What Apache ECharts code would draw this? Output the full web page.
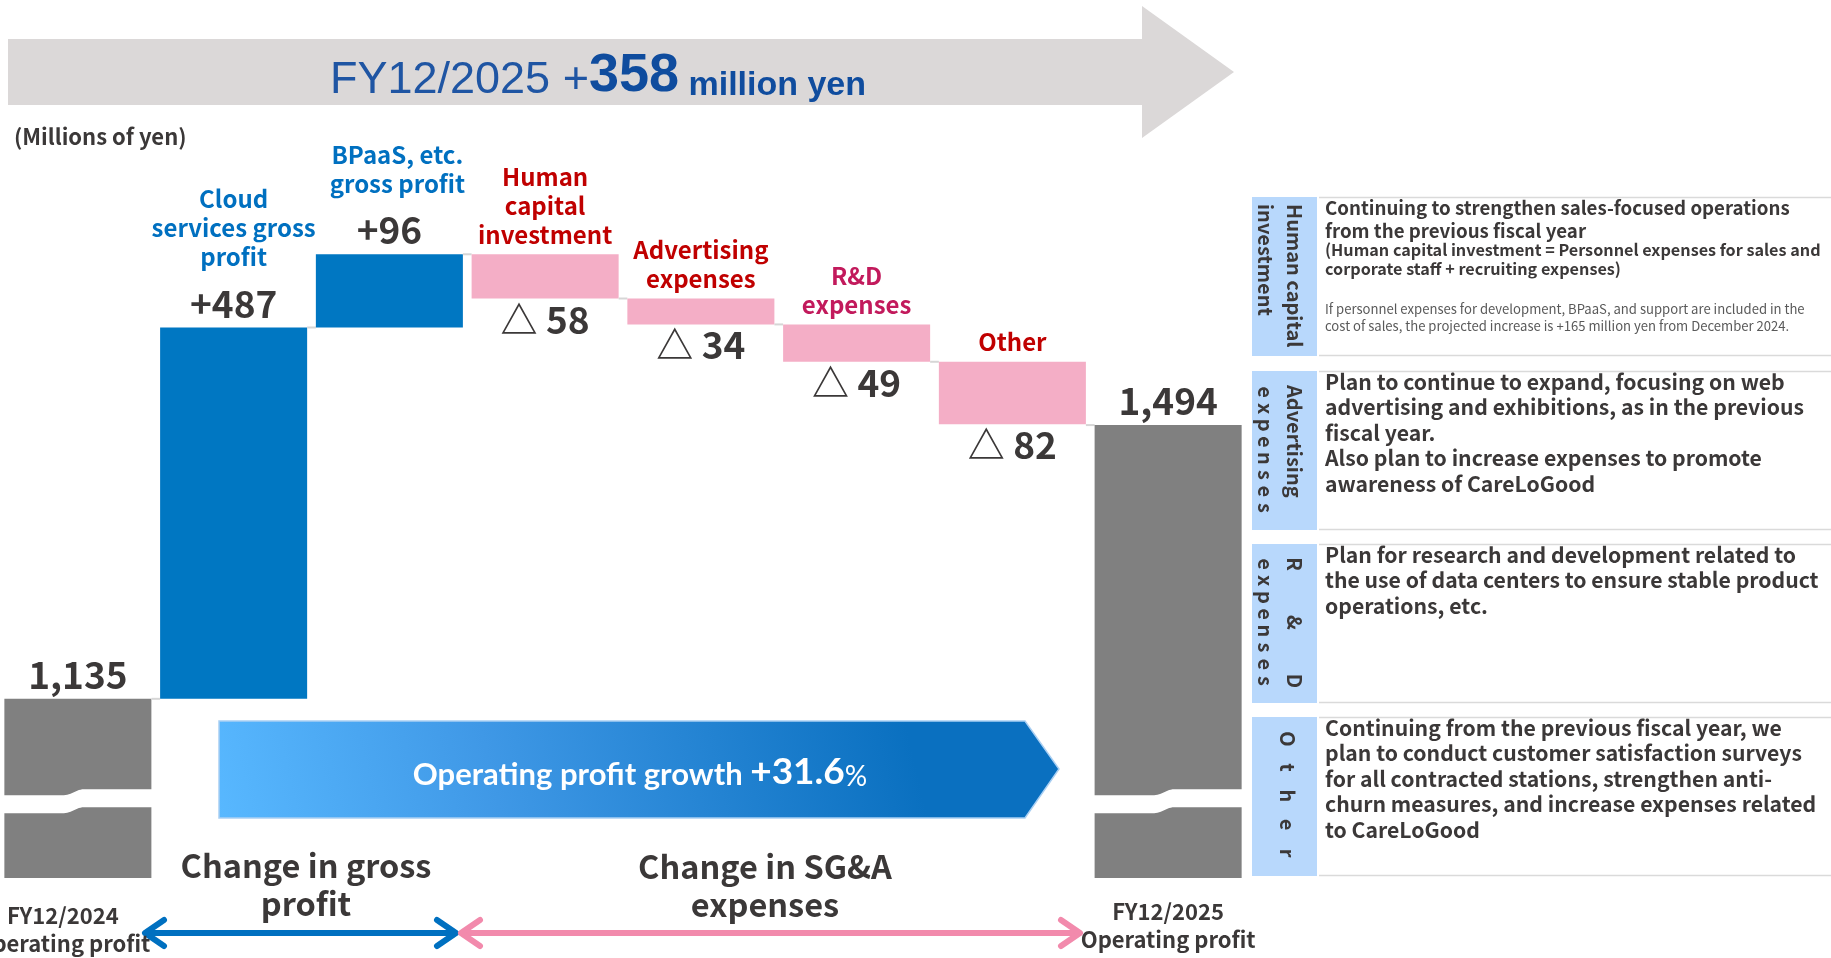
<!DOCTYPE html>
<html>
<head>
<meta charset="utf-8">
<title>Operating profit bridge FY12/2024 to FY12/2025</title>
<script src="https://cdn.jsdelivr.net/npm/echarts@6/dist/echarts.min.js"></script>
<style>
  html, body { margin: 0; padding: 0; background: #ffffff; overflow: hidden; }
  #chart { width: 1831px; height: 958px; }
</style>
</head>
<body>
<div id="chart"></div>
<script>
// ---- data ----
const categories = [
  'FY12/2024\nOperating profit',
  'Cloud\nservices gross\nprofit',
  'BPaaS, etc.\ngross profit',
  'Human\ncapital\ninvestment',
  'Advertising\nexpenses',
  'R&D\nexpenses',
  'Other',
  'FY12/2025\nOperating profit'
];
const stepKinds = ['total', 'up', 'up', 'down', 'down', 'down', 'down', 'total'];
const stepValues = [1135, 487, 96, 58, 34, 49, 82, 1494];

const noteTags = [
  ['Human capital', 'investment'],
  ['Advertising', 'expenses'],
  ['R&D', 'expenses'],
  ['Other']
];
const noteBodies = [
  'Continuing to strengthen sales-focused operations\nfrom the previous fiscal year',
  'Plan to continue to expand, focusing on web\nadvertising and exhibitions, as in the previous\nfiscal year.\nAlso plan to increase expenses to promote\nawareness of CareLoGood',
  'Plan for research and development related to\nthe use of data centers to ensure stable product\noperations, etc.',
  'Continuing from the previous fiscal year, we\nplan to conduct customer satisfaction surveys\nfor all contracted stations, strengthen anti-\nchurn measures, and increase expenses related\nto CareLoGood'
];
const humanCapitalDefinition = '(Human capital investment = Personnel expenses for sales and\ncorporate staff + recruiting expenses)';
const humanCapitalNote = 'If personnel expenses for development, BPaaS, and support are included in the\ncost of sales, the projected increase is +165 million yen from December 2024.';

// ---- styling ----
const FONT = '"Noto Sans CJK JP", "Noto Sans", sans-serif';
const AXIS_MIN = 900;
const AXIS_MAX = 1700;
const BREAK_AT = 1002;
const BAR_COLORS = { total: '#808080', up: '#0077c2', down: '#f4aec6' };
const NAME_COLORS = ['#0070c0', '#0070c0', '#0070c0', '#c00000', '#c00000', '#c21a5c', '#c00000', '#0070c0'];
const NAME_SHIFT_X = [0, 0, 8, 0, 0, 0, 0, 0];
const INK = '#3b3838';

// waterfall steps: [index, low, high, connector level]
let running = 0;
const steps = stepValues.map((v, i) => {
  const prev = running;
  let lo, hi;
  if (stepKinds[i] === 'total') { lo = AXIS_MIN; hi = v; running = v; }
  else if (stepKinds[i] === 'up') { lo = running; hi = running + v; running = hi; }
  else { lo = running - v; hi = running; running = lo; }
  const level = stepKinds[i] === 'total' ? hi : prev;
  return [i, lo, hi, level];
});

function valueText(i) {
  const v = stepValues[i];
  if (stepKinds[i] === 'total') return v.toLocaleString('en-US');
  if (stepKinds[i] === 'up') return '+' + v;
  return '\u25B3 ' + v;
}

function txt(style) {
  if (style.align) style.textAlign = style.align;
  if (style.verticalAlign) style.textVerticalAlign = style.verticalAlign;
  return style;
}

function renderStep(params, api) {
  const i = api.value(0), lo = api.value(1), hi = api.value(2), level = api.value(3);
  const kind = stepKinds[i];
  const top = api.coord([i, hi]);
  const bot = api.coord([i, lo]);
  const band = api.size([1, 0])[0];
  const bw = band * 0.944;
  const cx = top[0];
  const x0 = cx - bw / 2;
  const children = [];

  // connector from previous bar
  if (i > 0) {
    const ly = api.coord([i, level])[1];
    children.push({
      type: 'line',
      shape: { x1: cx - band + bw / 2, y1: ly, x2: x0, y2: ly },
      style: { stroke: '#d6d6d6', lineWidth: 2 }
    });
  }

  children.push({
    type: 'rect',
    shape: { x: x0, y: top[1], width: bw, height: bot[1] - top[1] },
    style: { fill: BAR_COLORS[kind] }
  });

  // axis break on the totals
  if (kind === 'total') {
    const cy = api.coord([i, BREAK_AT])[1];
    const xa = x0 - 2, xb = x0 + bw + 2, xm = cx - 4;
    const pts = [];
    const N = 12;
    const edge = (off1, off2) => {
      const arr = [];
      for (let k = 0; k <= N; k++) {
        const t = k / N;
        const x = xm - 10 + 20 * t;
        const s = (1 - Math.cos(Math.PI * t)) / 2;
        arr.push([x, cy + off1 + (off2 - off1) * s]);
      }
      return arr;
    };
    pts.push([xa, cy - 5]);
    edge(-5, -11).forEach(p => pts.push(p));
    pts.push([xb, cy - 11]);
    pts.push([xb, cy + 7]);
    edge(13, 7).reverse().forEach(p => pts.push(p));
    pts.push([xa, cy + 13]);
    children.push({ type: 'polygon', shape: { points: pts }, style: { fill: '#ffffff' } });
  }

  const vFont = { fontFamily: FONT, fontSize: 37, fontWeight: 'bold', fill: INK };
  const nFont = { fontFamily: FONT, fontSize: 24, fontWeight: 'bold', lineHeight: 29, fill: NAME_COLORS[i] };
  const nx = cx + NAME_SHIFT_X[i];

  if (kind === 'total' || kind === 'up') {
    children.push({
      type: 'text',
      style: txt(Object.assign({ text: valueText(i), x: cx, y: top[1] - 24, align: 'center', verticalAlign: 'middle' }, vFont))
    });
    if (kind === 'up') {
      children.push({
        type: 'text',
        style: txt(Object.assign({ text: categories[i], x: nx, y: top[1] - 56, align: 'center', verticalAlign: 'bottom' }, nFont))
      });
    }
  } else {
    children.push({
      type: 'text',
      style: txt(Object.assign({ text: valueText(i), x: cx, y: bot[1] + 21, align: 'center', verticalAlign: 'middle' }, vFont))
    });
    children.push({
      type: 'text',
      style: txt(Object.assign({ text: categories[i], x: nx, y: top[1] - 5, align: 'center', verticalAlign: 'bottom' }, nFont))
    });
  }
  return { type: 'group', children };
}

// ---- decorations ----
function doubleArrow(x1, x2, y, color) {
  const hx = 19, hy = 13;
  const st = { stroke: color, lineWidth: 6, lineCap: 'round', lineJoin: 'round', fill: null };
  return [
    { type: 'line', shape: { x1: x1 + 3, y1: y, x2: x2 - 3, y2: y }, style: st },
    { type: 'polyline', shape: { points: [[x1 + hx, y - hy], [x1, y], [x1 + hx, y + hy]] }, style: st },
    { type: 'polyline', shape: { points: [[x2 - hx, y - hy], [x2, y], [x2 - hx, y + hy]] }, style: st }
  ];
}

function verticalTag(str, cx, y0, y1, spread, size) {
  const base = { fontFamily: FONT, fontSize: size, fontWeight: 'bold', fill: INK };
  if (!spread) {
    return [{
      type: 'text', x: cx, y: y0, rotation: -Math.PI / 2,
      style: txt(Object.assign({ text: str, x: 0, y: 0, align: 'left', verticalAlign: 'middle' }, base))
    }];
  }
  const chars = str.replace(/ /g, '').split('');
  const step = (y1 - y0) / (chars.length - 1);
  return chars.map((c, k) => ({
    type: 'text', x: cx, y: y0 + k * step, rotation: -Math.PI / 2,
    style: txt(Object.assign({ text: c, x: 0, y: 0, align: 'center', verticalAlign: 'middle' }, base))
  }));
}

const graphics = [];

// headline arrow
graphics.push({
  type: 'polygon',
  shape: { points: [[8, 39], [1142, 39], [1142, 6], [1234, 72], [1142, 138], [1142, 105], [8, 105]] },
  style: { fill: '#dbd8d8' }
});
graphics.push({
  type: 'text',
  style: txt({
    text: '{a|FY12/2025 +}{b|358}{c| million yen}',
    x: 598, y: 76, align: 'center', verticalAlign: 'middle',
    rich: {
      a: { fontFamily: '"Liberation Sans Narrow", "Liberation Sans", sans-serif', fontSize: 45, fill: '#1f55a3', verticalAlign: 'bottom' },
      b: { fontFamily: '"Liberation Sans Narrow", "Liberation Sans", sans-serif', fontSize: 54, fontWeight: 'bold', fill: '#0f4c9e', verticalAlign: 'bottom' },
      c: { fontFamily: '"Liberation Sans Narrow", "Liberation Sans", sans-serif', fontSize: 34, fontWeight: 'bold', fill: '#0f4c9e', verticalAlign: 'bottom' }
    }
  })
});
graphics.push({
  type: 'text',
  style: txt({ text: '(Millions of yen)', x: 14, y: 137, align: 'left', verticalAlign: 'middle', fontFamily: FONT, fontSize: 22, fontWeight: 'bold', fill: INK })
});

// growth banner
graphics.push({
  type: 'polygon',
  shape: { points: [[219, 721], [1025, 721], [1059, 769], [1025, 818], [219, 818]] },
  style: {
    fill: new echarts.graphic.LinearGradient(0, 1, 0.8, -0.6, [
      { offset: 0, color: '#58b8ff' },
      { offset: 0.4, color: '#3f98e6' },
      { offset: 1, color: '#0a70c0' }
    ]),
    stroke: '#a9cff3', lineWidth: 1.5
  }
});
graphics.push({
  type: 'text',
  style: txt({
    text: '{a|Operating profit growth }{b|+31.6}{c|%}',
    x: 640, y: 772, align: 'center', verticalAlign: 'middle',
    rich: {
      a: { fontFamily: 'Lato, "Open Sans", sans-serif', fontSize: 31, fontWeight: 'bold', fill: '#ffffff', verticalAlign: 'bottom' },
      b: { fontFamily: 'Lato, "Open Sans", sans-serif', fontSize: 37, fontWeight: 'bold', fill: '#ffffff', verticalAlign: 'bottom' },
      c: { fontFamily: 'Lato, "Open Sans", sans-serif', fontSize: 28, fill: '#ffffff', verticalAlign: 'bottom' }
    }
  })
});

// bracket captions
const capStyle = { fontFamily: FONT, fontSize: 32.5, fontWeight: 'bold', lineHeight: 38, fill: INK, align: 'center', verticalAlign: 'middle' };
graphics.push({ type: 'text', style: txt(Object.assign({ text: 'Change in gross\nprofit', x: 306, y: 885 }, capStyle)) });
graphics.push({ type: 'text', style: txt(Object.assign({ text: 'Change in SG&A\nexpenses', x: 765, y: 886 }, capStyle)) });
doubleArrow(145, 456, 933, '#0070c0').forEach(g => graphics.push(g));
doubleArrow(461, 1080, 933, '#f28aac').forEach(g => graphics.push(g));

// notes panel
const rowTops = [197, 371, 544, 717];
const rowH = 159;
rowTops.forEach(t => {
  graphics.push({ type: 'rect', shape: { x: 1252, y: t, width: 65, height: rowH }, style: { fill: '#b8d8fc' } });
  graphics.push({ type: 'line', shape: { x1: 1319, y1: t + 0.5, x2: 1831, y2: t + 0.5 }, style: { stroke: '#dadada', lineWidth: 1.5 } });
  graphics.push({ type: 'line', shape: { x1: 1319, y1: t + rowH - 0.5, x2: 1831, y2: t + rowH - 0.5 }, style: { stroke: '#dadada', lineWidth: 1.5 } });
});

const bodyStyle = { fontFamily: FONT, fontWeight: 'bold', fill: INK, align: 'left', verticalAlign: 'top' };
graphics.push({ type: 'text', style: txt(Object.assign({ text: noteBodies[0], x: 1325, y: rowTops[0] - 1, fontSize: 18.7, lineHeight: 23.5 }, bodyStyle)) });
graphics.push({ type: 'text', style: txt(Object.assign({ text: humanCapitalDefinition, x: 1325, y: rowTops[0] + 44, fontSize: 16.2, lineHeight: 18.7 }, bodyStyle)) });
graphics.push({ type: 'text', style: txt({ text: humanCapitalNote, x: 1325, y: rowTops[0] + 104, fontSize: 13.1, lineHeight: 16.4, fontFamily: FONT, fill: '#595959', align: 'left', verticalAlign: 'top' }) });
for (let r = 1; r < 4; r++) {
  graphics.push({ type: 'text', style: txt(Object.assign({ text: noteBodies[r], x: 1325, y: rowTops[r] - 2, fontSize: 21.2, lineHeight: 25.5 }, bodyStyle)) });
}

// vertical tags
verticalTag(noteTags[0][0], 1295, rowTops[0] + 7, 0, false, 20).forEach(g => graphics.push(g));
verticalTag(noteTags[0][1], 1266, rowTops[0] + 7, 0, false, 20).forEach(g => graphics.push(g));
verticalTag(noteTags[1][0], 1295, rowTops[1] + 14, 0, false, 20).forEach(g => graphics.push(g));
verticalTag(noteTags[1][1], 1266, rowTops[1] + 21, rowTops[1] + 137, true, 20).forEach(g => graphics.push(g));
verticalTag(noteTags[2][0], 1295, rowTops[2] + 20, rowTops[2] + 137, true, 20).forEach(g => graphics.push(g));
verticalTag(noteTags[2][1], 1266, rowTops[2] + 20, rowTops[2] + 137, true, 20).forEach(g => graphics.push(g));
verticalTag(noteTags[3][0], 1288, rowTops[3] + 22, rowTops[3] + 136, true, 20).forEach(g => graphics.push(g));

// ---- chart ----
const chart = echarts.init(document.getElementById('chart'), null, { renderer: 'canvas' });
chart.setOption({
  animation: false,
  backgroundColor: '#ffffff',
  grid: { left: 0, top: 268, width: 1246, height: 610, containLabel: false, outerBoundsMode: 'none' },
  xAxis: {
    type: 'category',
    data: categories,
    axisLine: { show: false },
    axisTick: { show: false },
    splitLine: { show: false },
    axisLabel: {
      interval: 0,
      margin: 20,
      hideOverlap: false,
      formatter: (val, idx) => {
        if (stepKinds[idx] !== 'total') return '';
        const tag = idx === 0 ? 'l' : 'r';
        return val.split('\n').map(s => '{' + tag + '|' + s + '}').join('\n');
      },
      rich: {
        l: { fontFamily: FONT, fontSize: 22, fontWeight: 'bold', color: INK, lineHeight: 28, padding: [8, 30, 0, 0] },
        r: { fontFamily: FONT, fontSize: 22, fontWeight: 'bold', color: INK, lineHeight: 28 }
      }
    }
  },
  yAxis: { type: 'value', min: AXIS_MIN, max: AXIS_MAX, show: false, splitLine: { show: false } },
  series: [{
    type: 'custom',
    renderItem: renderStep,
    data: steps,
    encode: { x: 0, y: [1, 2] },
    z: 2
  }],
  graphic: graphics
});
</script>
</body>
</html>
